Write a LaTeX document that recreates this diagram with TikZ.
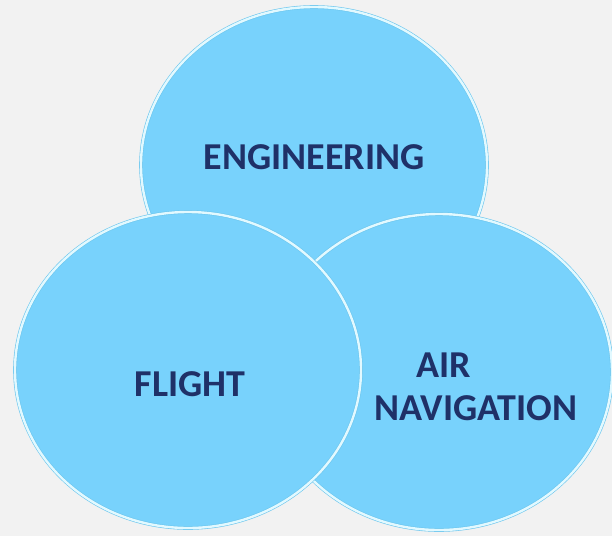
\documentclass[tikz,border=0pt]{standalone}
\usepackage{fontspec}
\setmainfont{Carlito}
\usetikzlibrary{shapes.geometric}
\definecolor{bgcol}{HTML}{F2F2F2}
\definecolor{bubblefill}{HTML}{78D2FC}
\definecolor{bubblerim}{HTML}{6CC6EE}
\definecolor{bubbleshine}{HTML}{E2F9FF}
\definecolor{labelcol}{HTML}{1F3168}
\tikzset{
  bubble/.style={
    ellipse, fill=bubblefill, draw=bubblerim, line width=0.6pt,
    double=bubbleshine, double distance=2.4pt,
    minimum width=346pt, minimum height=316pt, inner sep=0pt
  },
  bubbletext/.style={
    font=\fontsize{38}{43}\selectfont\bfseries, text=labelcol,
    align=center, inner sep=0pt
  },
}

\begin{document}
\begin{tikzpicture}[x=1pt, y=-1pt]
  \fill[bgcol] (0,0) rectangle (612,536);
  \useasboundingbox (0,0) rectangle (612,536);
  % circles, back to front
  \node (engc) [bubble] at (314,165) {};
  \node (navc) [bubble] at (439,372) {};
  \node (fltc) [bubble] at (188,370) {};
  % labels
  \node (englbl) [bubbletext] at (314,157) {ENGINEERING};
  \node (fltlbl) [bubbletext] at (190,384) {FLIGHT};
  \node (navlbl) [bubbletext] at (476,387) {AIR\hspace*{64pt}\\NAVIGATION};
\end{tikzpicture}
\end{document}
